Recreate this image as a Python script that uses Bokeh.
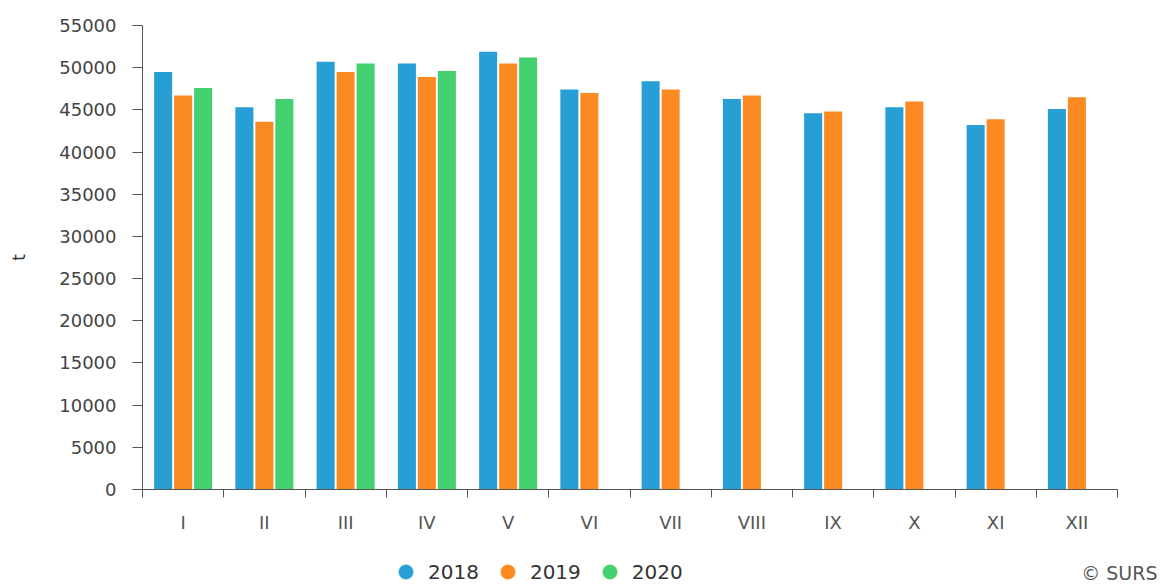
from bokeh.plotting import figure
from bokeh.layouts import column
from bokeh.models import (Range1d, FixedTicker, ColumnDataSource, Legend, LegendItem,
                          Label, CustomJSTickFormatter)
from bokeh.transform import dodge
from bokeh.embed import file_html
from bokeh.resources import INLINE

# ---- data ----
months = ["I", "II", "III", "IV", "V", "VI", "VII", "VIII", "IX", "X", "XI", "XII"]
years = ["2018", "2019", "2020"]
v2018 = [49500, 45300, 50700, 50500, 51900, 47400, 48400, 46300, 44600, 45300, 43200, 45100]
v2019 = [46700, 43600, 49500, 48900, 50500, 47000, 47400, 46700, 44800, 46000, 43900, 46500]
v2020 = [47600, 46300, 50500, 49600, 51200]
y_ticks = [0, 5000, 10000, 15000, 20000, 25000, 30000, 35000, 40000, 45000, 50000, 55000]
y_label = "t"
credit = "© SURS"

colors = ["#279fd4", "#fb8a23", "#43d06f"]
FONT = "DejaVu Sans"

W = 1161
H_MAIN, H_STRIP = 548, 36
p = figure(width=W, height=H_MAIN, output_backend="svg", toolbar_location=None,
           x_range=Range1d(0, len(months)), y_range=Range1d(0, 55000),
           min_border_left=142, min_border_right=44, min_border_top=25,
           min_border_bottom=H_MAIN - 489)
p.outline_line_color = None
p.xgrid.visible = False
p.ygrid.visible = False

series = [v2018, v2019, v2020]
offsets = [-0.246, 0.0, 0.246]
sources = []
for vals, c, off in zip(series, colors, offsets):
    n = len(vals)
    src = ColumnDataSource(dict(pos=[i + 0.5 for i in range(n)], val=vals))
    sources.append(src)
    p.vbar(x=dodge("pos", off, range=p.x_range), top="val", width=0.222, bottom=0,
           source=src, fill_color=c, line_color=None)

# x axis: labels at category centres, tick marks at boundaries
xa = p.xaxis[0]
xa.ticker = FixedTicker(ticks=[i + 0.5 for i in range(len(months))],
                        minor_ticks=list(range(len(months) + 1)))
xa.formatter = CustomJSTickFormatter(args=dict(months=months),
                                     code="return months[Math.floor(tick)];")
xa.major_tick_line_color = None
xa.major_tick_out = 0
xa.major_tick_in = 0
xa.minor_tick_line_color = "#555555"
xa.minor_tick_out = 8
xa.minor_tick_in = 0
xa.axis_line_color = "#555555"
xa.major_label_standoff = 14
xa.major_label_text_font = FONT
xa.major_label_text_font_size = "18px"
xa.major_label_text_color = "#555555"

ya = p.yaxis[0]
ya.ticker = FixedTicker(ticks=y_ticks)
ya.minor_tick_line_color = None
ya.major_tick_out = 10
ya.major_tick_in = 0
ya.major_tick_line_color = "#555555"
ya.axis_line_color = "#555555"
ya.major_label_standoff = 16
ya.major_label_text_font = FONT
ya.major_label_text_font_size = "18px"
ya.major_label_text_color = "#444444"
ya.axis_label = y_label
ya.axis_label_standoff = 27
ya.axis_label_text_font = FONT
ya.axis_label_text_font_size = "17px"
ya.axis_label_text_font_style = "normal"
ya.axis_label_text_color = "#333333"

# ---- bottom strip: legend + credit ----
s = figure(width=W, height=H_STRIP, output_backend="svg", toolbar_location=None,
           x_range=Range1d(0, 1), y_range=Range1d(0, 1),
           x_axis_location=None, y_axis_location=None,
           min_border=0, min_border_left=0, min_border_right=0,
           min_border_top=0, min_border_bottom=0)
s.outline_line_color = None
s.xgrid.visible = False
s.ygrid.visible = False
for fig in (p, s):
    if "frame_align" in fig.properties():
        fig.frame_align = False

items = []
for yr, c, src in zip(years, colors, sources):
    r = s.scatter(x="pos", y="val", source=src, marker="circle", size=13,
                  fill_color=c, line_color=c, visible=False)
    items.append(LegendItem(label=yr, renderers=[r]))
legend = Legend(items=items, orientation="horizontal", location=(388, -5),
                border_line_color=None, background_fill_alpha=0, padding=0, margin=0,
                spacing=11, glyph_width=35, glyph_height=35, label_standoff=5,
                label_text_font=FONT, label_text_font_size="20px",
                label_text_color="#333333", inactive_fill_alpha=0)
s.add_layout(legend, "center")

s.add_layout(Label(x=1157, y=12, x_units="screen", y_units="screen", text=credit,
                   text_align="right", text_baseline="middle", text_font=FONT,
                   text_font_size="19px", text_color="#555555"))

layout = column(p, s, spacing=0)
open("out.html", "w").write(file_html(layout, INLINE))
